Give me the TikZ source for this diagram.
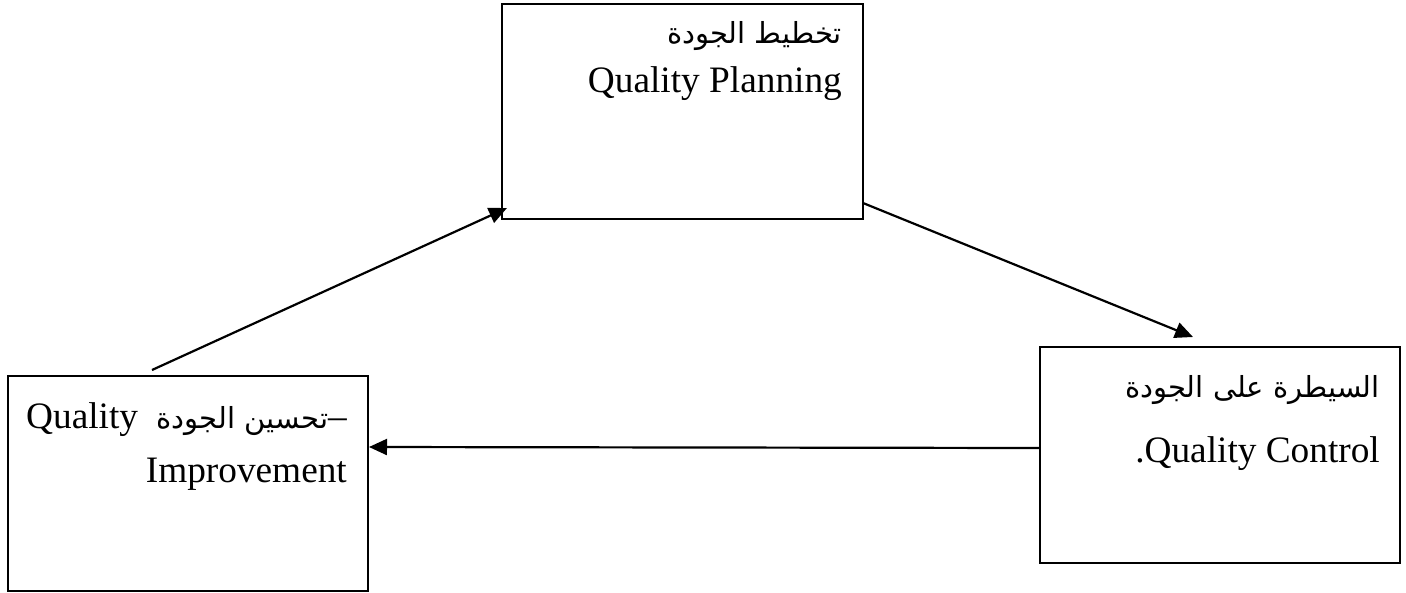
\documentclass[tikz,border=0pt]{standalone}
\usepackage{fontspec}
\setmainfont{Liberation Serif}
\newfontfamily\arabicfont[Script=Arabic]{DejaVu Sans}
\TeXXeTstate=1
\usetikzlibrary{arrows.meta}
\begin{document}
\begin{tikzpicture}[x=1pt,y=-1pt,
  box/.style={draw=black,line width=2pt,rectangle,inner sep=0pt,anchor=north west},
  lbl/.style={anchor=base east,inner sep=0pt,font=\fontsize{37.3}{45}\selectfont},
  arlbl/.style={anchor=base east,inner sep=0pt,font=\arabicfont\fontsize{29}{34}\selectfont},
  conn/.style={line width=2.2pt,-{Triangle[length=18pt,width=16pt]}}]
\useasboundingbox (0,0) rectangle (1406,592);
% boxes
\node[box,minimum width=361pt,minimum height=215pt] (plan) at (501,3) {};
\node[box,minimum width=360pt,minimum height=216pt] (ctrl) at (1039,346) {};
\node[box,minimum width=360pt,minimum height=215pt] (impr) at (7,375) {};
% texts
\node[arlbl] (planar) at (842,43) {\beginR تخطيط الجودة\endR};
\node[lbl] (planen) at (842,92) {Quality Planning};
\node[arlbl] (ctrlar) at (1380,397) {\beginR السيطرة على الجودة\endR};
\node[lbl] (ctrlen) at (1380,462) {.Quality Control};
\node[lbl] (imprl1) at (347,428) {Quality\ \ {\arabicfont\fontsize{29}{34}\selectfont\beginR تحسين الجودة\endR}–};
\node[lbl] (imprl2) at (347,482) {Improvement};
% connector end points
\coordinate (a1s) at (152,370);
\coordinate (a1e) at (507,208);
\coordinate (a2s) at (863,203);
\coordinate (a2e) at (1193,337);
\coordinate (a3s) at (ctrl.west |- 0,448);
\coordinate (a3e) at (impr.east |- 0,447);
\draw[conn] (a1s) -- (a1e);
\draw[conn] (a2s) -- (a2e);
\draw[conn] (a3s) -- (a3e);
\end{tikzpicture}
\end{document}
